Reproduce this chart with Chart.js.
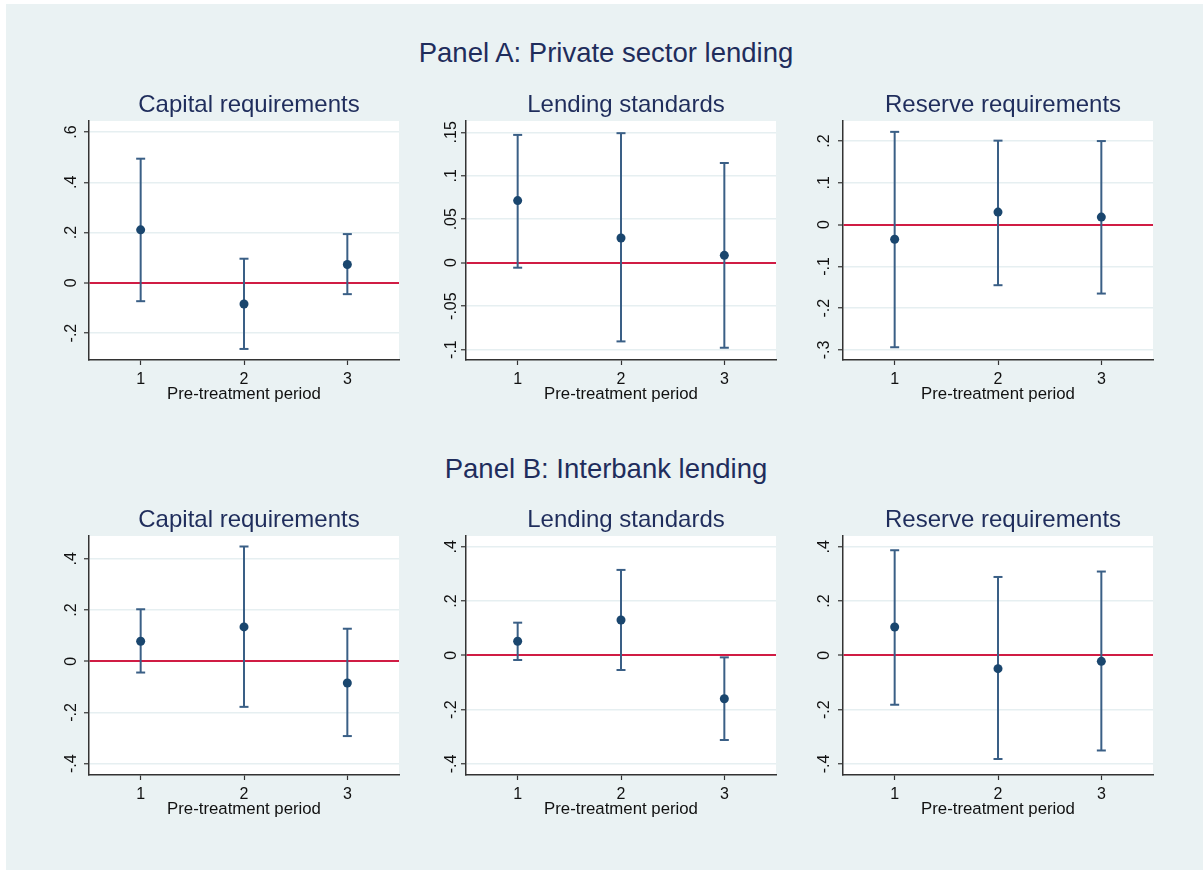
<!DOCTYPE html>
<html>
<head>
<meta charset="utf-8">
<title>Pre-treatment coefficients</title>
<script src="https://cdn.jsdelivr.net/npm/chart.js@4.4.1/dist/chart.umd.min.js"></script>
<style>
  html, body { margin: 0; padding: 0; background: #ffffff; overflow: hidden; width: 1203px; height: 870px; }
  #stage { position: absolute; left: 6px; top: 4px; width: 1197px; height: 866px; background: #eaf2f3; }
  .panel-title {
    position: absolute; left: 0; width: 1200px; text-align: center;
    font-family: 'Liberation Sans', Arial, sans-serif; font-size: 27.5px; line-height: 30px;
    color: #1f2d5c; white-space: nowrap;
  }
  canvas.plot { position: absolute; }
</style>
</head>
<body>
<div id="stage">
  <div class="panel-title" id="titleA" style="top:33.5px"></div>
  <div class="panel-title" id="titleB" style="top:450px"></div>
</div>

<script>
// ---- data -------------------------------------------------------------
const panelTitles = ['Panel A: Private sector lending', 'Panel B: Interbank lending'];
const subplotTitles = ['Capital requirements', 'Lending standards', 'Reserve requirements'];
const axisTitle = 'Pre-treatment period';

const periods = [1, 2, 3];
const xTicks = [1, 2, 3];

// Panel A: private sector lending (point estimate, lower and upper bound)
const capPrivEst = [0.211, -0.084, 0.073];
const capPrivLo  = [-0.073, -0.263, -0.045];
const capPrivHi  = [0.494, 0.096, 0.194];

const lendPrivEst = [0.0714, 0.0284, 0.0084];
const lendPrivLo  = [-0.0058, -0.0906, -0.0979];
const lendPrivHi  = [0.147, 0.149, 0.1147];

const resPrivEst = [-0.035, 0.030, 0.018];
const resPrivLo  = [-0.2935, -0.145, -0.165];
const resPrivHi  = [0.222, 0.201, 0.200];

// Panel B: interbank lending
const capIbEst = [0.078, 0.134, -0.085];
const capIbLo  = [-0.044, -0.178, -0.292];
const capIbHi  = [0.203, 0.448, 0.127];

const lendIbEst = [0.052, 0.1305, -0.160];
const lendIbLo  = [-0.017, -0.054, -0.312];
const lendIbHi  = [0.1205, 0.315, -0.0074];

const resIbEst = [0.1046, -0.049, -0.022];
const resIbLo  = [-0.182, -0.382, -0.3506];
const resIbHi  = [0.3875, 0.289, 0.309];

// y-axis tick values and ranges
const yTicksCapPriv  = [-0.2, 0, 0.2, 0.4, 0.6];
const yTicksLendPriv = [-0.1, -0.05, 0, 0.05, 0.1, 0.15];
const yTicksResPriv  = [-0.3, -0.2, -0.1, 0, 0.1, 0.2];
const yTicksIb       = [-0.4, -0.2, 0, 0.2, 0.4];

const yRangeCapPriv  = [-0.307, 0.644];
const yRangeLendPriv = [-0.112, 0.163];
const yRangeResPriv  = [-0.324, 0.248];
const yRangeCapIb    = [-0.444, 0.489];
const yRangeLendIb   = [-0.441, 0.440];
const yRangeResIb    = [-0.441, 0.440];

// ---- styling ----------------------------------------------------------
const FONT = "'Liberation Sans', Arial, sans-serif";
const TITLE_COLOR = '#1f2d5c';
const TEXT_COLOR = '#111111';
const AXIS_COLOR = '#333333';
const GRID_COLOR = '#e6eff1';
const ZERO_COLOR = '#d01c44';
const BAR_COLOR = '#3a5f86';
const DOT_COLOR = '#1a466e';
const TICK_SIZE = 16;

const COL_PLOT_LEFT = [89, 466, 843];   // left edge of each plot area
const ROW_CANVAS_TOP = [76, 491];
const Y_AXIS_W = 60, PLOT_W = 310, RIGHT_W = 70, CANVAS_H = 344;
const TICK_LEN = 5;
const LABEL_OFFSET = [17.6, 14.3, 18.3]; // axis-to-label-centre distance per column

document.getElementById('titleA').textContent = panelTitles[0];
document.getElementById('titleB').textContent = panelTitles[1];

function fmt(v) {
  if (v === 0) return '0';
  const s = (Math.round(v * 1000) / 1000).toString();
  return s.replace(/^(-?)0\./, '$1.');
}

const measureCtx = document.createElement('canvas').getContext('2d');
function widestLabel(values) {
  measureCtx.font = `normal ${TICK_SIZE}px ${FONT}`;
  return Math.max(...values.map(v => measureCtx.measureText(fmt(v)).width));
}

const plotBackground = {
  id: 'plotBackground',
  beforeDraw(chart) {
    const { ctx, chartArea: a } = chart;
    ctx.save();
    ctx.fillStyle = '#ffffff';
    ctx.fillRect(a.left, a.top, a.right - a.left, a.bottom - a.top);
    ctx.restore();
  }
};

function makePanel(row, col, est, lo, hi, yTicks, yRange) {
  const canvas = document.createElement('canvas');
  const w = Y_AXIS_W + PLOT_W + RIGHT_W;
  canvas.width = w;
  canvas.height = CANVAS_H;
  canvas.className = 'plot';
  canvas.style.left = (COL_PLOT_LEFT[col] - Y_AXIS_W) + 'px';
  canvas.style.top = ROW_CANVAS_TOP[row] + 'px';
  canvas.style.width = w + 'px';
  canvas.style.height = CANVAS_H + 'px';
  document.body.appendChild(canvas);

  const yPad = LABEL_OFFSET[col] - TICK_LEN - widestLabel(yTicks) / 2;

  const points = {
    data: periods.map((p, i) => ({ x: p, y: est[i] })),
    pointRadius: 4.5,
    pointBackgroundColor: DOT_COLOR,
    pointBorderColor: DOT_COLOR,
    pointBorderWidth: 0,
    showLine: false
  };
  const bars = periods.map((p, i) => ({
    data: [{ x: p, y: lo[i] }, { x: p, y: hi[i] }],
    showLine: true,
    borderColor: BAR_COLOR,
    borderWidth: 2,
    pointStyle: 'line',
    pointRadius: 4.5,
    pointBorderWidth: 2,
    pointBorderColor: BAR_COLOR,
    fill: false,
    clip: false
  }));

  return new Chart(canvas, {
    type: 'scatter',
    data: { datasets: [points, ...bars] },
    plugins: [plotBackground],
    options: {
      responsive: false,
      animation: false,
      devicePixelRatio: 1,
      events: [],
      layout: { padding: 0 },
      plugins: {
        legend: { display: false },
        tooltip: { enabled: false },
        title: {
          display: true,
          text: subplotTitles[col],
          color: TITLE_COLOR,
          font: { family: FONT, size: 24, weight: 'normal', lineHeight: 1.2 },
          padding: { top: 15, bottom: 1.2 }
        }
      },
      scales: {
        x: {
          type: 'linear',
          min: 0.5,
          max: 3.5,
          afterBuildTicks: s => { s.ticks = xTicks.map(v => ({ value: v })); },
          afterFit: s => { s.height = 60; },
          grid: { drawOnChartArea: false, drawTicks: true, tickLength: TICK_LEN, tickColor: AXIS_COLOR, tickWidth: 1.2 },
          border: { display: true, color: AXIS_COLOR, width: 1.5 },
          ticks: {
            font: { family: FONT, size: TICK_SIZE }, color: TEXT_COLOR,
            padding: 5.4, maxRotation: 0, minRotation: 0,
            callback: v => String(v)
          },
          title: {
            display: true, text: axisTitle, color: TEXT_COLOR,
            font: { family: FONT, size: 16.8 }, padding: { top: 0, bottom: 15.5 }
          }
        },
        y: {
          type: 'linear',
          position: 'left',
          min: yRange[0],
          max: yRange[1],
          afterBuildTicks: s => { s.ticks = yTicks.map(v => ({ value: v })); },
          afterFit: s => { s.width = Y_AXIS_W; },
          grid: {
            color: c => (c.tick && c.tick.value === 0 ? ZERO_COLOR : GRID_COLOR),
            lineWidth: c => (c.tick && c.tick.value === 0 ? 2 : 1.5),
            drawTicks: true, tickLength: TICK_LEN, tickColor: AXIS_COLOR, tickWidth: 1.2
          },
          border: { display: true, color: AXIS_COLOR, width: 1.5 },
          ticks: {
            font: { family: FONT, size: TICK_SIZE }, color: TEXT_COLOR,
            minRotation: 90, maxRotation: 90, crossAlign: 'center',
            padding: yPad,
            callback: v => fmt(v)
          }
        },
        rightPad: {
          type: 'linear',
          axis: 'y',
          position: 'right',
          display: true,
          grid: { display: false },
          border: { display: false },
          ticks: { display: false },
          afterFit: s => { s.width = RIGHT_W; }
        }
      }
    }
  });
}

makePanel(0, 0, capPrivEst, capPrivLo, capPrivHi, yTicksCapPriv, yRangeCapPriv);
makePanel(0, 1, lendPrivEst, lendPrivLo, lendPrivHi, yTicksLendPriv, yRangeLendPriv);
makePanel(0, 2, resPrivEst, resPrivLo, resPrivHi, yTicksResPriv, yRangeResPriv);
makePanel(1, 0, capIbEst, capIbLo, capIbHi, yTicksIb, yRangeCapIb);
makePanel(1, 1, lendIbEst, lendIbLo, lendIbHi, yTicksIb, yRangeLendIb);
makePanel(1, 2, resIbEst, resIbLo, resIbHi, yTicksIb, yRangeResIb);
</script>
</body>
</html>
